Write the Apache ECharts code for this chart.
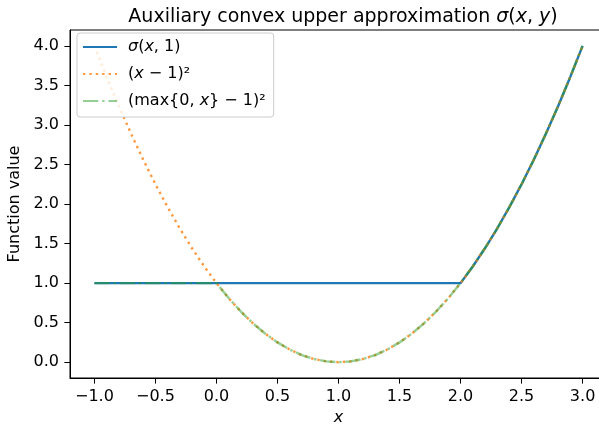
<!DOCTYPE html>
<html>
<head>
<meta charset="utf-8">
<script src="https://cdn.jsdelivr.net/npm/echarts@6/dist/echarts.min.js"></script>
<style>
  html, body { margin: 0; padding: 0; background: #fff; }
  #chart { width: 599px; height: 427px; }
</style>
</head>
<body>
<div id="chart"></div>
<script>
  // x samples
  const xs = [-1.0, -0.9, -0.8, -0.7, -0.6, -0.5, -0.4, -0.3, -0.2, -0.1, 0.0,
    0.1, 0.2, 0.3, 0.4, 0.5, 0.6, 0.7, 0.8, 0.9, 1.0,
    1.1, 1.2, 1.3, 1.4, 1.5, 1.6, 1.7, 1.8, 1.9, 2.0,
    2.1, 2.2, 2.3, 2.4, 2.5, 2.6, 2.7, 2.8, 2.9, 3.0];

  // sigma(x, 1)
  const sigmaVals = [1, 1, 1, 1, 1, 1, 1, 1, 1, 1, 1,
    1, 1, 1, 1, 1, 1, 1, 1, 1, 1,
    1, 1, 1, 1, 1, 1, 1, 1, 1, 1,
    1.21, 1.44, 1.69, 1.96, 2.25, 2.56, 2.89, 3.24, 3.61, 4.00];

  // (x-1)^2
  const squareVals = [4.00, 3.61, 3.24, 2.89, 2.56, 2.25, 1.96, 1.69, 1.44, 1.21, 1.00,
    0.81, 0.64, 0.49, 0.36, 0.25, 0.16, 0.09, 0.04, 0.01, 0.00,
    0.01, 0.04, 0.09, 0.16, 0.25, 0.36, 0.49, 0.64, 0.81, 1.00,
    1.21, 1.44, 1.69, 1.96, 2.25, 2.56, 2.89, 3.24, 3.61, 4.00];

  // (max{0,x}-1)^2
  const clipVals = [1, 1, 1, 1, 1, 1, 1, 1, 1, 1, 1.00,
    0.81, 0.64, 0.49, 0.36, 0.25, 0.16, 0.09, 0.04, 0.01, 0.00,
    0.01, 0.04, 0.09, 0.16, 0.25, 0.36, 0.49, 0.64, 0.81, 1.00,
    1.21, 1.44, 1.69, 1.96, 2.25, 2.56, 2.89, 3.24, 3.61, 4.00];

  const xTicks = [-1.0, -0.5, 0.0, 0.5, 1.0, 1.5, 2.0, 2.5, 3.0];
  const yTicks = [0.0, 0.5, 1.0, 1.5, 2.0, 2.5, 3.0, 3.5, 4.0];

  const seriesNames = ['sigma', 'square', 'clip'];
  const legendLabels = {
    sigma: '{i|σ}({i|x}, 1)',
    square: '({i|x} − 1)²',
    clip: '(max{0, {i|x}} − 1)²',
  };

  const pairs = (vals) => xs.map((x, i) => [x, vals[i]]);
  const fmt = (v) => v.toFixed(1).replace('-', '\u2212');
  const font = 'DejaVu Sans';

  const chart = echarts.init(document.getElementById('chart'));

  const axisCommon = {
    type: 'value',
    axisLine: { show: true, onZero: false, lineStyle: { color: '#000', width: 1 } },
    axisTick: { show: true, length: 5.6, lineStyle: { color: '#000', width: 1 } },
    axisLabel: { color: '#000', fontSize: 16, fontFamily: font, margin: 11, formatter: fmt },
    splitLine: { show: false },
  };

  const option = {
    animation: false,
    backgroundColor: '#fff',
    title: {
      text: 'Auxiliary convex upper approximation {i|σ}({i|x}, {i|y})',
      left: 338,
      top: 3,
      textAlign: 'center',
      textStyle: {
        color: '#000',
        fontSize: 19,
        fontWeight: 'normal',
        fontFamily: font,
        rich: {
          i: { fontStyle: 'italic', fontSize: 19, fontFamily: font, color: '#000' },
        },
      },
    },
    grid: {
      left: 70, width: 537, top: 30, height: 348,
      outerBoundsMode: 'none', containLabel: false,
      show: true, borderColor: '#000', borderWidth: 1,
    },
    xAxis: Object.assign({}, axisCommon, {
      min: -1.2,
      max: 3.2,
      name: 'x',
      nameLocation: 'middle',
      nameGap: 31,
      nameTextStyle: { color: '#000', fontSize: 16, fontFamily: font, fontStyle: 'italic' },
      axisTick: Object.assign({}, axisCommon.axisTick, { customValues: xTicks }),
      axisLabel: Object.assign({}, axisCommon.axisLabel, { customValues: xTicks }),
    }),
    yAxis: Object.assign({}, axisCommon, {
      min: -0.2,
      max: 4.2,
      name: 'Function value',
      nameLocation: 'middle',
      nameGap: 43,
      nameTextStyle: { color: '#000', fontSize: 16, fontFamily: font },
      axisTick: Object.assign({}, axisCommon.axisTick, { customValues: yTicks }),
      axisLabel: Object.assign({}, axisCommon.axisLabel, { customValues: yTicks }),
    }),
    legend: {
      left: 77,
      top: 33,
      orient: 'vertical',
      data: seriesNames,
      itemWidth: 34,
      itemHeight: 16,
      itemGap: 11,
      padding: [6, 8, 8, 5],
      backgroundColor: 'rgba(255,255,255,0.8)',
      borderColor: '#ccc',
      borderWidth: 1,
      borderRadius: 3,
      itemStyle: { opacity: 0 },
      formatter: (name) => legendLabels[name],
      textStyle: {
        color: '#000',
        fontSize: 16,
        fontFamily: font,
        padding: [0, 0, 0, 6],
        rich: {
          i: { fontStyle: 'italic', fontSize: 16, fontFamily: font, color: '#000' },
        },
      },
    },
    series: [
      {
        name: 'sigma',
        type: 'line',
        data: pairs(sigmaVals),
        symbol: 'none',
        color: '#1f77b4',
        lineStyle: { width: 2.4, color: '#1f77b4' },
        z: 2,
      },
      {
        name: 'square',
        type: 'line',
        data: pairs(squareVals),
        symbol: 'none',
        color: 'rgba(255,127,14,0.8)',
        lineStyle: { width: 2.4, color: 'rgba(255,127,14,0.8)', type: [2.4, 4] },
        z: 3,
      },
      {
        name: 'clip',
        type: 'line',
        data: pairs(clipVals),
        symbol: 'none',
        color: 'rgba(44,160,44,0.5)',
        lineStyle: { width: 2.4, color: 'rgba(44,160,44,0.5)', type: [15.4, 3.8, 2.4, 3.8] },
        z: 4,
      },
    ],
  };

  chart.setOption(option);
</script>
</body>
</html>
